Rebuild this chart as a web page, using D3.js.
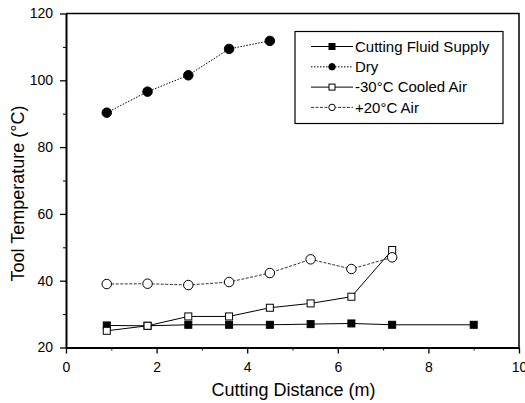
<!DOCTYPE html>
<html>
<head>
<meta charset="utf-8">
<script src="https://d3js.org/d3.v7.min.js"></script>
<style>
  body { margin: 0; background: #fff; }
  svg { font-family: Arial, "Liberation Sans", Helvetica, sans-serif; }
</style>
</head>
<body>
<div id="chart"></div>
<script>
// #####################################################
// Data
//
var distance = [0.9, 1.8, 2.7, 3.6, 4.5, 5.4, 6.3, 7.2, 9.0];

var fluidTemp  = [26.6, 26.5, 26.8, 26.8, 26.8, 27.0, 27.2, 26.8, 26.8];
var dryTemp    = [90.3, 96.6, 101.5, 109.4, 111.8];
var cooledTemp = [25.0, 26.5, 29.3, 29.3, 31.9, 33.2, 35.2, 49.2];
var airTemp    = [39.0, 39.1, 38.7, 39.6, 42.3, 46.4, 43.5, 47.0];

var seriesNames = ['Cutting Fluid Supply', 'Dry', '-30°C Cooled Air', '+20°C Air'];
var xTicks = [0, 2, 4, 6, 8, 10];
var yTicks = [20, 40, 60, 80, 100, 120];

function toPoints(values) {
  return values.map(function (v, i) { return {x: distance[i], y: v}; });
}

// style of each series: marker, fill, dash
var series = [
  {name: seriesNames[0], data: toPoints(fluidTemp),  shape: 'square', fill: '#000', dash: null,    width: 1},
  {name: seriesNames[1], data: toPoints(dryTemp),    shape: 'circle', fill: '#000', dash: '1.5,1.5', width: 1},
  {name: seriesNames[2], data: toPoints(cooledTemp), shape: 'square', fill: '#fff', dash: null,    width: 1},
  {name: seriesNames[3], data: toPoints(airTemp),    shape: 'circle', fill: '#fff', dash: '3,1.5', width: 0.8}
];

// #####################################################
// Plot
//
var margin = {top: 13.5, right: 6, bottom: 55.5, left: 66},
    width = 525 - margin.left - margin.right,
    height = 403 - margin.top - margin.bottom;

var svg = d3.select('#chart').append('svg')
    .attr('width', 525)
    .attr('height', 403)
  .append('g')
    .attr('transform', 'translate(' + margin.left + ',' + margin.top + ')');

var x = d3.scaleLinear().domain([0, 10]).range([0, width]);
var y = d3.scaleLinear().domain([20, 120]).range([height, 0]);

// frame (top and right)
svg.append('path')
    .attr('d', 'M0,0H' + width + 'V' + height)
    .style('fill', 'none')
    .style('stroke', '#000')
    .attr('stroke-width', 1.5);

// minor ticks
svg.append('g')
    .attr('transform', 'translate(0,' + height + ')')
    .call(d3.axisBottom(x).tickValues([1, 3, 5, 7, 9]).tickSize(3).tickFormat(''))
    .call(function (g) { g.select('.domain').remove(); });
svg.append('g')
    .call(d3.axisLeft(y).tickValues([30, 50, 70, 90, 110]).tickSize(3).tickFormat(''))
    .call(function (g) { g.select('.domain').remove(); });

// X axis
var xAxis = svg.append('g')
    .attr('transform', 'translate(0,' + height + ')')
    .call(d3.axisBottom(x).tickValues(xTicks).tickSize(6).tickPadding(8.5).tickSizeOuter(0));

// Y axis
var yAxis = svg.append('g')
    .call(d3.axisLeft(y).tickValues(yTicks).tickSize(6).tickPadding(7).tickSizeOuter(0));

[xAxis, yAxis].forEach(function (a) {
  a.select('.domain').attr('stroke-width', 2);
  a.selectAll('text').style('font-size', '14px').style('font-family', 'Arial, "Liberation Sans", sans-serif').attr('fill', '#000');
  a.selectAll('line').attr('stroke-width', 1.3);
});

svg.append('text')
    .attr('x', width / 2 + 1)
    .attr('y', height + 48)
    .style('text-anchor', 'middle')
    .style('font-size', '18px')
    .text('Cutting Distance (m)');

svg.append('text')
    .attr('transform', 'rotate(-90)')
    .attr('x', -(height / 2) - 13)
    .attr('y', -42)
    .style('text-anchor', 'middle')
    .style('font-size', '18px')
    .text('Tool Temperature (°C)');

// markers
function drawMarker(g, shape, fill, px, py, size) {
  if (shape === 'square') {
    g.append('rect')
      .attr('x', px - size / 2).attr('y', py - size / 2)
      .attr('width', size).attr('height', size)
      .style('fill', fill).style('stroke', '#000').attr('stroke-width', 1);
  } else {
    g.append('circle')
      .attr('cx', px).attr('cy', py).attr('r', size / 2 + 0.5)
      .style('fill', fill).style('stroke', '#000').attr('stroke-width', 1);
  }
}

var line = d3.line()
    .x(function (d) { return x(d.x); })
    .y(function (d) { return y(d.y); });

series.forEach(function (s) {
  var g = svg.append('g');
  g.append('path')
      .datum(s.data)
      .attr('d', line)
      .style('fill', 'none')
      .style('stroke', '#000')
      .attr('stroke-width', s.width)
      .attr('stroke-dasharray', s.dash);
  s.data.forEach(function (d) {
    drawMarker(g, s.shape, s.fill, x(d.x), y(d.y), s.shape === 'square' ? 7 : 8.5);
  });
});

// Legend
var lx = 229, ly = 18;
svg.append('rect')
    .attr('x', lx).attr('y', ly)
    .attr('width', 208).attr('height', 92)
    .style('fill', '#fff')
    .style('stroke', '#000')
    .attr('stroke-width', 1.2);

series.forEach(function (s, i) {
  var ry = ly + 15 + i * 20.3;
  var g = svg.append('g');
  g.append('line')
      .attr('x1', lx + 16).attr('x2', lx + 58)
      .attr('y1', ry).attr('y2', ry)
      .style('stroke', '#000')
      .attr('stroke-width', s.width)
      .attr('stroke-dasharray', s.dash);
  drawMarker(g, s.shape, s.fill, lx + 37, ry, s.shape === 'square' ? 6 : 5.5);
  g.append('text')
      .attr('x', lx + 60)
      .attr('y', ry)
      .attr('dy', '0.35em')
      .style('font-size', '15px')
      .text(s.name);
});
</script>
</body>
</html>
